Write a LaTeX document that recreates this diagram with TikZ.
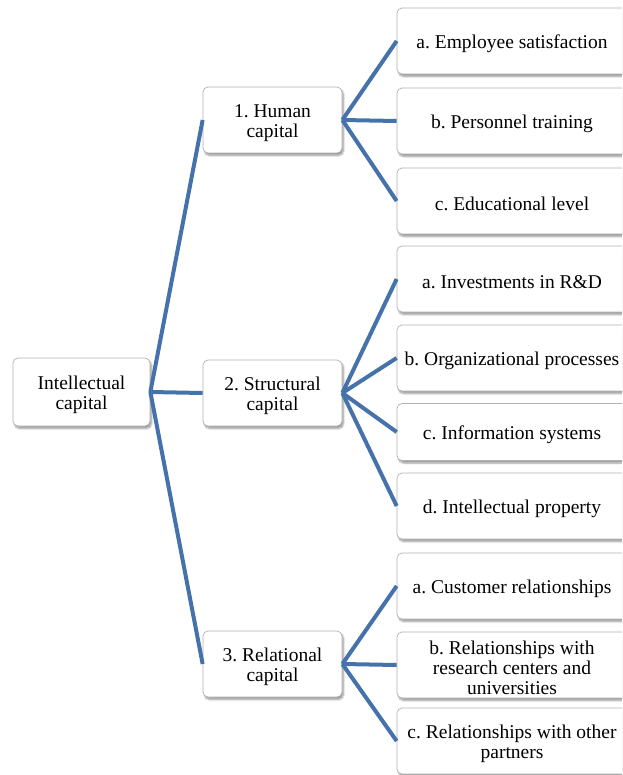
\documentclass[tikz,border=0pt]{standalone}
\usepackage{fontspec}
\setmainfont{Liberation Serif}
\usetikzlibrary{shadows.blur}
\definecolor{linkblue}{RGB}{70,114,172}
\newcommand{\lift}{\rule{0pt}{19.5pt}}
\begin{document}
\begin{tikzpicture}[x=1pt,y=-1pt,
    box/.style={draw=gray!60,line width=0.7pt,rounded corners=5pt,fill=white,align=center,
        inner sep=2pt,font=\fontsize{19.5}{20}\selectfont\frenchspacing,
        blur shadow={shadow xshift=1.5pt,shadow yshift=-2.5pt,shadow blur steps=6,shadow opacity=40}},
    rootbox/.style={box,minimum width=137pt,minimum height=68pt},
    midbox/.style={box,minimum width=139pt,minimum height=66pt},
    leafbox/.style={box,minimum width=230pt,minimum height=66pt},
    link/.style={draw=linkblue,line width=4pt}]
    \useasboundingbox (0,0) rectangle (622,775);
    \clip (0,0) rectangle (622,775);
    \node[rootbox] (ic) at (81.5,392) {\lift Intellectual\\capital};
    \node[midbox] (hum) at (272.5,120) {\lift 1. Human\\capital};
    \node[midbox] (str) at (272.5,393) {\lift 2. Structural\\capital};
    \node[midbox] (rel) at (272.5,664) {\lift 3. Relational\\capital};
    \node[leafbox] (hum-a) at (512,41) {\lift a. Employee satisfaction};
    \node[leafbox] (hum-b) at (512,121) {\lift b. Personnel training};
    \node[leafbox] (hum-c) at (512,201) {\lift c. Educational level};
    \node[leafbox] (str-a) at (512,279) {\lift a. Investments in R\&D};
    \node[leafbox] (str-b) at (512,358) {\lift b. Organizational processes};
    \node[leafbox,minimum height=57pt] (str-c) at (512,432) {\lift c. Information systems};
    \node[leafbox] (str-d) at (512,506) {\lift d. Intellectual property};
    \node[leafbox] (rel-a) at (512,586) {\lift a. Customer relationships};
    \node[leafbox] (rel-b) at (512,665) {\lift b. Relationships with\\research centers and\\universities};
    \node[leafbox] (rel-c) at (512,741) {\lift c. Relationships with other\\partners};
    \draw[link] (ic.east) -- (hum.west);
    \draw[link] (ic.east) -- (str.west);
    \draw[link] (ic.east) -- (rel.west);
    \draw[link] (hum.east) -- (hum-a.west);
    \draw[link] (hum.east) -- (hum-b.west);
    \draw[link] (hum.east) -- (hum-c.west);
    \draw[link] (str.east) -- (str-a.west);
    \draw[link] (str.east) -- (str-b.west);
    \draw[link] (str.east) -- (str-c.west);
    \draw[link] (str.east) -- (str-d.west);
    \draw[link] (rel.east) -- (rel-a.west);
    \draw[link] (rel.east) -- (rel-b.west);
    \draw[link] (rel.east) -- (rel-c.west);
\end{tikzpicture}
\end{document}
